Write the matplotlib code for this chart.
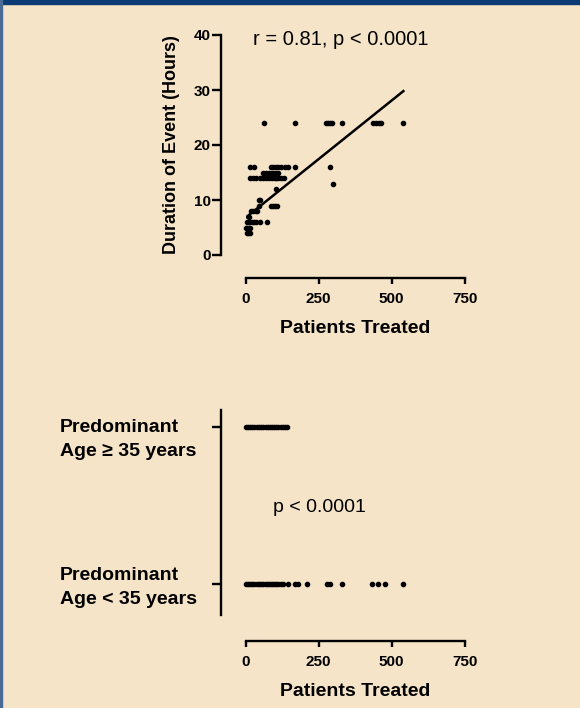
import matplotlib
matplotlib.use("Agg")
import matplotlib.pyplot as plt
from matplotlib.patches import Rectangle

plt.rcParams['font.family'] = ['Liberation Sans', 'DejaVu Sans']

# top panel: patients treated vs duration of event
x_24 = [64, 169, 275, 282, 288, 294, 329, 435, 445, 455, 465, 540]
x_16 = [14, 30, 85, 95, 105, 112, 120, 135, 145, 169, 289]
x_15 = [60, 70, 80, 90, 100, 110]
x_14 = [15, 25, 35, 50, 60, 70, 80, 90, 100, 105, 110, 120, 130]
x_13 = [298]
x_12 = [104]
x_10 = [46, 50]
x_9 = [45, 85, 92, 100, 107]
x_8 = [18, 25, 35, 40]
x_7 = [10]
x_6 = [5, 12, 20, 28, 35, 50, 72]
x_5 = [0, 5, 10, 15]
x_4 = [3, 8, 14]
rows = {24: x_24, 16: x_16, 15: x_15, 14: x_14, 13: x_13, 12: x_12, 10: x_10,
        9: x_9, 8: x_8, 7: x_7, 6: x_6, 5: x_5, 4: x_4}

fit_x = [0, 540]
fit_y = [6.8, 29.8]

# bottom panel: patients treated by predominant age group
older = [0, 8, 15, 22, 30, 38, 45, 52, 60, 68, 75, 82, 90, 98, 105, 112, 120, 128, 135, 142]
younger = [0, 8, 15, 22, 30, 38, 45, 52, 60, 68, 75, 82, 90, 98, 105, 112, 120, 129,
           146, 169, 180, 211, 277, 289, 329, 431, 453, 477, 540]

x_ticks = [0, 250, 500, 750]
bg = '#F5E4C8'
PX = 0.72  # points per pixel at dpi 100

fig = plt.figure(figsize=(5.8, 7.08), dpi=100, facecolor=bg)
fig.patches.append(Rectangle((0, 1 - 4 / 708), 1, 4 / 708, transform=fig.transFigure,
                             color='#0B3A75', zorder=5))
fig.patches.append(Rectangle((0, 0), 2 / 580, 1, transform=fig.transFigure,
                             color='#4A6A96', zorder=5))


def style_axes(ax):
    ax.set_facecolor('none')
    for s in ['top', 'right']:
        ax.spines[s].set_visible(False)
    ax.spines['left'].set_position(('outward', 24.5 * PX))
    ax.spines['bottom'].set_position(('outward', 23 * PX))
    for s in ['left', 'bottom']:
        ax.spines[s].set_linewidth(1.7)
    ax.tick_params(axis='y', width=1.7, length=9 * PX, labelsize=11, pad=1)
    ax.tick_params(axis='x', width=1.7, length=6 * PX, labelsize=11, pad=6)
    ax.set_xlim(0, 750)
    ax.set_xticks(x_ticks)
    ax.spines['bottom'].set_bounds(0, 750)
    for lab in ax.get_xticklabels() + ax.get_yticklabels():
        lab.set_fontweight('bold')
    ax.set_xlabel('Patients Treated', fontsize=14, fontweight='bold', labelpad=10)


# top scatter
ax1 = fig.add_axes([245.7 / 580, (708 - 255) / 708, 219 / 580, 220 / 708])
for yv, xs in rows.items():
    ax1.scatter(xs, [yv] * len(xs), s=9, color='black', clip_on=False, zorder=3)
ax1.plot(fit_x, fit_y, color='black', lw=1.8)
ax1.set_ylim(0, 40)
ax1.set_yticks([0, 10, 20, 30, 40])
style_axes(ax1)
ax1.spines['left'].set_bounds(0, 40)
ax1.set_ylabel('Duration of Event (Hours)', fontsize=13, fontweight='bold', labelpad=10)
ax1.text(325, 39.2, 'r = 0.81, p < 0.0001', ha='center', va='center', fontsize=14.5)

# bottom strip plot
ax2 = fig.add_axes([245.7 / 580, (708 - 618) / 708, 219 / 580, 208 / 708])
ax2.scatter(older, [1] * len(older), s=9, color='black', clip_on=False, zorder=3)
ax2.scatter(younger, [0] * len(younger), s=9, color='black', clip_on=False, zorder=3)
ax2.set_ylim(-34 / 157, 174 / 157)
ax2.set_yticks([0, 1])
ax2.set_yticklabels(['', ''])
style_axes(ax2)
ax2.spines['left'].set_bounds(-31 / 157, 174 / 157)
ax2.text(254, 0.49, 'p < 0.0001', ha='center', va='center', fontsize=14)

tr = ax2.get_yaxis_transform()
lx = (60 - 245.7) / 219
for yv, age in [(1, 'Age \u2265 35 years'), (9 / 157, 'Age < 35 years')]:
    ax2.text(lx, yv, 'Predominant', transform=tr, ha='left', va='center',
             fontsize=14, fontweight='bold')
    ax2.text(lx, yv - 25 / 157, age, transform=tr, ha='left', va='center',
             fontsize=14, fontweight='bold')

fig.savefig('out.png', dpi=100, facecolor=bg)
